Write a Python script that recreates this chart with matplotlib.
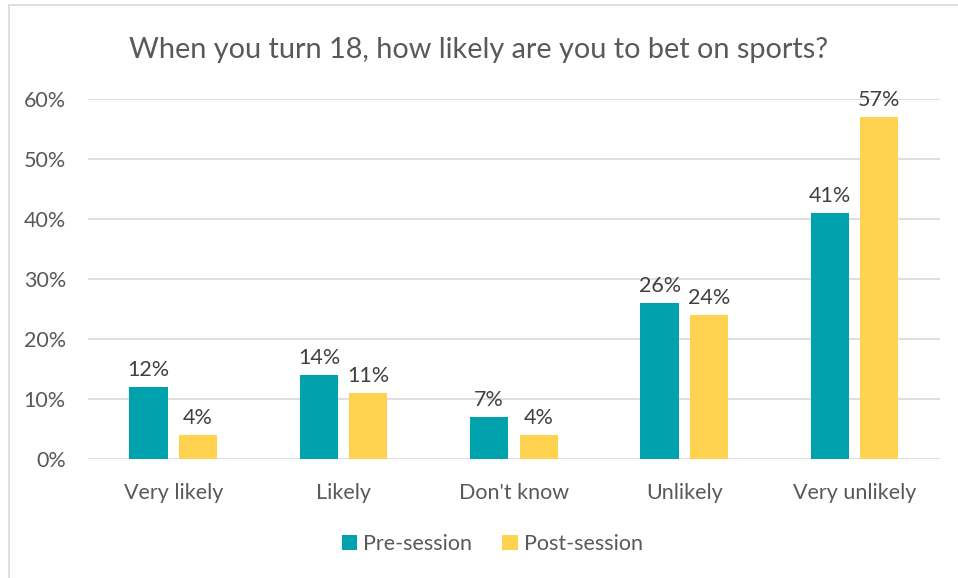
import matplotlib.pyplot as plt
import numpy as np
from matplotlib.patches import Rectangle

categories = ["Very likely", "Likely", "Don't know", "Unlikely", "Very unlikely"]
pre_session = [12, 14, 7, 26, 41]
post_session = [4, 11, 4, 24, 57]
y_ticks = [0, 10, 20, 30, 40, 50, 60]

teal = "#00A3AD"
yellow = "#FFD24F"
grey_text = "#595959"
grid_col = "#D9D9D9"

plt.rcParams['font.family'] = ['Lato', 'DejaVu Sans']

fig = plt.figure(figsize=(9.58, 5.78), dpi=100)
ax = fig.add_axes([0.092, 0.206, 0.889, 0.623])

# contour gris du graphique
fig.patches.append(Rectangle((0.009, -0.02), 1.05, 1.011, transform=fig.transFigure,
                             fill=False, edgecolor=grid_col, linewidth=1.2))

x = np.arange(len(categories))
largeur = 0.225
decalage = 0.145
b1 = ax.bar(x - decalage, pre_session, largeur, color=teal, label="Pre-session", zorder=3)
b2 = ax.bar(x + decalage, post_session, largeur, color=yellow, label="Post-session", zorder=3)

for barres, valeurs in ((b1, pre_session), (b2, post_session)):
    for barre, v in zip(barres, valeurs):
        ax.annotate(f"{v}%", (barre.get_x() + barre.get_width() / 2, v),
                    xytext=(0, 5), textcoords="offset points", ha="center", va="bottom",
                    fontsize=15.5, color="#404040")

ax.set_xlim(-0.5, len(categories) - 0.5)
ax.set_ylim(0, 60)
ax.set_yticks(y_ticks)
ax.set_yticklabels([f"{t}%" for t in y_ticks])
ax.set_xticks(x)
ax.set_xticklabels(categories)
ax.tick_params(axis="both", length=0, labelsize=15.5, colors=grey_text)
ax.tick_params(axis="x", pad=17)
ax.tick_params(axis="y", pad=16)
ax.yaxis.grid(True, color=grid_col, linewidth=1.2, zorder=0)
for s in ax.spines.values():
    s.set_visible(False)

fig.text(0.5, 0.914, "When you turn 18, how likely are you to bet on sports?",
         ha="center", va="center", fontsize=20.8, color=grey_text)

fig.legend(handles=[b1, b2], loc="center", bbox_to_anchor=(0.514, 0.058), ncol=2,
           frameon=False, fontsize=15.5, labelcolor=grey_text, handlelength=0.7,
           handleheight=0.7, handletextpad=0.3, columnspacing=1.4)

fig.savefig("out.png", dpi=100)
